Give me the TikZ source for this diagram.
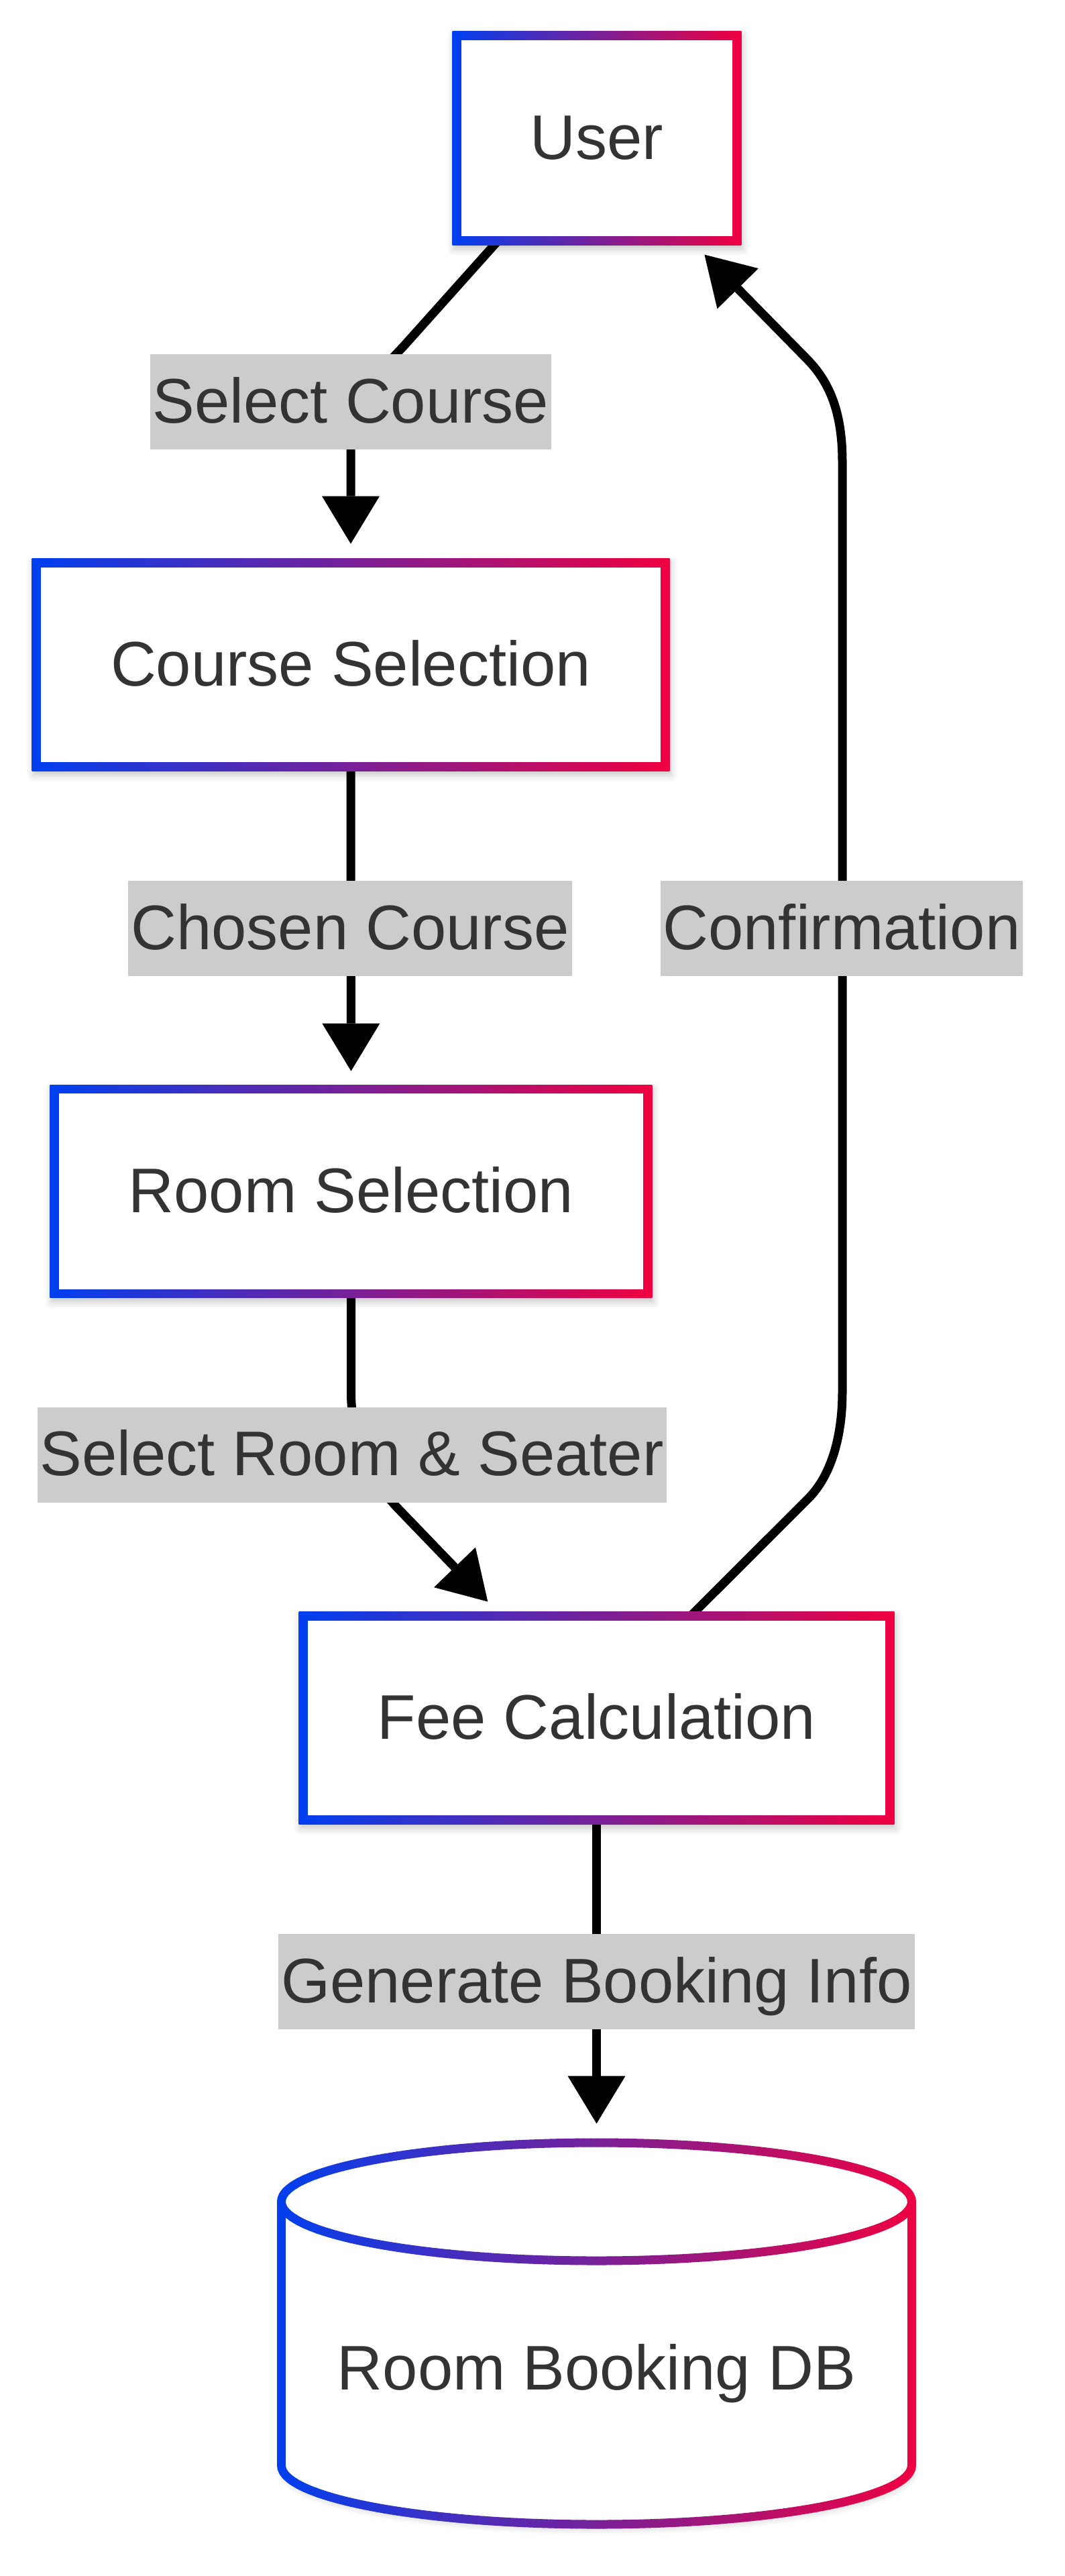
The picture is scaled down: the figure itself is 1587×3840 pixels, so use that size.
\documentclass[tikz,border=0pt]{standalone}
\usepackage{fontspec}
\setmainfont{Liberation Sans}
\usetikzlibrary{arrows.meta,calc,shadows.blur}
\definecolor{gblue}{RGB}{0,64,240}
\definecolor{gred}{RGB}{240,0,64}
\definecolor{txt}{RGB}{51,51,51}
\definecolor{lblbg}{RGB}{204,204,204}
\pgfdeclarelayer{edgelayer}
\pgfdeclarelayer{bglayer}
\pgfsetlayers{edgelayer,bglayer,main}
\tikzset{softshadow/.style={blur shadow={shadow xshift=1pt, shadow yshift=-3pt, shadow blur radius=5pt, shadow opacity=22}}}
\newcommand\gradborder[1]{%
  \fill[white, softshadow] ($(#1.south west)+(-6.5,6.5)$) rectangle ($(#1.north east)+(6.5,-6.5)$);
  \shade[left color=gblue, right color=gred] ($(#1.south west)+(-6.5,6.5)$) rectangle ($(#1.north east)+(6.5,-6.5)$);
  \fill[white] ($(#1.south west)+(6.5,-6.5)$) rectangle ($(#1.north east)+(-6.5,6.5)$);
}
\newcommand\dbfillpath{(419.5,3282) -- (419.5,3675) arc[start angle=180,end angle=0,x radius=470,y radius=88] -- (1359.5,3282) arc[start angle=0,end angle=-180,x radius=470,y radius=88] -- cycle}
\newcommand\dbstrokepath{(419.5,3282) -- (419.5,3675) arc[start angle=180,end angle=0,x radius=470,y radius=88] -- (1359.5,3282) (889.5,3282) ellipse[x radius=470,y radius=88]}
\begin{document}
\begin{tikzpicture}[x=0.5pt,y=-0.5pt,
  box/.style={rectangle, inner sep=0pt, text=txt, font=\fontsize{47pt}{56pt}\selectfont, text height=51pt, text depth=20pt},
  lbl/.style={rectangle, fill=lblbg, text=txt, inner xsep=2pt, inner ysep=0pt, font=\fontsize{47pt}{56pt}\selectfont, text height=51pt, text depth=20pt},
  conn/.style={line width=6.5pt, draw=black, -{Triangle[length=35.5pt,width=43pt,line width=0pt]}}]
\useasboundingbox (0,0) rectangle (1587,3840);

% nodes
\node[box, minimum width=208.5pt, minimum height=152.5pt] (user) at (890,206) {User};
\node[box, minimum width=468.5pt, minimum height=151.5pt] (course) at (523,991) {Course Selection};
\node[box, minimum width=442pt, minimum height=152pt] (room) at (523.5,1776) {Room Selection};
\node[box, minimum width=437pt, minimum height=151.5pt] (fee) at (889.5,2561) {Fee Calculation};
\node[rectangle, inner sep=0pt, minimum width=470pt, minimum height=284.5pt] (db) at (889.5,3478.5) {};
\node[box] (dblabel) at (889.5,3531) {Room Booking DB};

% gradient borders
\begin{pgfonlayer}{bglayer}
  \gradborder{user}
  \gradborder{course}
  \gradborder{room}
  \gradborder{fee}
  \fill[white, softshadow] \dbfillpath;
  \foreach \i in {0,...,95}{
    \pgfmathsetmacro\xa{412+\i*9.95}
    \pgfmathsetmacro\xb{\xa+11}
    \pgfmathtruncatemacro\pc{round(100*(\i+0.5)/96)}
    \begin{scope}
      \clip (\xa,3180) rectangle (\xb,3785);
      \draw[line width=6.5pt, draw=gred!\pc!gblue] \dbstrokepath;
    \end{scope}
  }
\end{pgfonlayer}

% connectors
\begin{pgfonlayer}{edgelayer}
  \draw[conn, shorten >=14.25pt] ($(user.south west)+(61.5,0)$) -- (605.5,512) .. controls (575,546) and (523,590) .. (523,650) -- (course.north);
  \draw[conn, shorten >=13.5pt] (course.south) -- (room.north);
  \draw[conn, shorten >=15pt] (room.south) -- (523.5,2075) .. controls (523.5,2140) and (545,2195) .. (590,2245) -- ($(fee.north west)+(296,0)$);
  \draw[conn, shorten >=14pt] (fee.south) -- (db.north);
  \draw[conn, shorten >=14.5pt] ($(fee.north west)+(577.5,0)$) -- (1205,2234) .. controls (1240,2199) and (1256,2140) .. (1256,2075) -- (1256,689) .. controls (1256,620) and (1240,573) .. (1204,536) -- ($(user.south west)+(349,0)$);
\end{pgfonlayer}

% edge labels
\node[lbl] (l1) at (523,599) {Select Course};
\node[lbl] (l2) at (522,1384) {Chosen Course};
\node[lbl] (l5) at (1255,1384) {Confirmation};
\node[lbl] (l3) at (524.5,2168.5) {Select Room \& Seater};
\node[lbl] (l4) at (889.5,2954) {Generate Booking Info};
\end{tikzpicture}
\end{document}
